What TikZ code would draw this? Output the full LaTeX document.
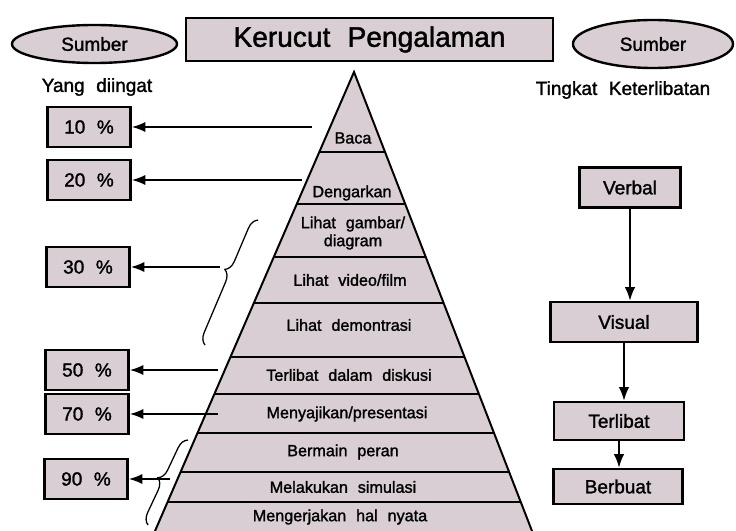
\documentclass[tikz,border=0pt]{standalone}
\usepackage{fontspec}
\setmainfont{Liberation Sans}[WordSpace=2.2, FakeBold=1.5]
\usetikzlibrary{calc,arrows.meta,shapes.geometric,decorations.pathreplacing}
\definecolor{boxfill}{RGB}{216,206,212}
\newcommand{\layer}[1]
{   \draw ($(apex)!#1!(bl)$) -- ($(apex)!#1!(br)$);
}
\newcommand{\bigfont}{\fontsize{13.5}{15}\selectfont}
\tikzset{
  box/.style={draw, line width=1.7pt, fill=boxfill, inner sep=0pt},
  pct/.style={box, minimum width=2.08cm, minimum height=1cm, font=\bigfont},
  lvl/.style={box, minimum height=1cm, font=\bigfont},
  src/.style={box, ellipse, font=\bigfont},
  lbl/.style={font=\fontsize{11.5}{12.8}\selectfont},
  arr/.style={line width=1.4pt, -{Latex[length=3.4mm,width=2.6mm]}},
  brc/.style={decorate, decoration={brace, amplitude=8pt, aspect=#1}, line width=0.9pt}
}

\begin{document}
\begin{tikzpicture}[x=0.025cm, y=-0.025cm]
 \useasboundingbox (0,0) rectangle (736,531);
 \clip (0,0) rectangle (736,531);

 \coordinate (apex) at (354,72);
 \coordinate (bl) at (155,531);
 \coordinate (br) at (532,531);
 \fill[boxfill] (apex) -- ($(apex)!1.05!(bl)$) -- ($(apex)!1.05!(br)$) -- cycle;
 \draw[line width=1.4pt] ($(apex)!1.05!(bl)$) -- (apex) -- ($(apex)!1.05!(br)$);
 \begin{scope}[line width=1.3pt]
   \layer{0.1743} \layer{0.2876} \layer{0.4031}
   \layer{0.5033} \layer{0.6209} \layer{0.7015}
   \layer{0.7865} \layer{0.8715} \layer{0.9368}
 \end{scope}

   \node[lbl] (baca) at (353,138) {Baca};
   \node[lbl] (dengar) at (352,193) {Dengarkan};
   \node[lbl, align=center] (gambar) at (353,233) {Lihat gambar/\\diagram};
   \node[lbl] (video) at (350,280) {Lihat video/film};
   \node[lbl] (demo) at (349,325) {Lihat demontrasi};
   \node[lbl] (diskusi) at (349,375) {Terlibat dalam diskusi};
   \node[lbl] (saji) at (347,414) {Menyajikan/presentasi};
   \node[lbl] (peran) at (343,452) {Bermain peran};
   \node[lbl] (simulasi) at (343,487) {Melakukan simulasi};
   \node[lbl] (nyata) at (340,517) {Mengerjakan hal nyata};

   \node[box, minimum width=9.175cm, minimum height=1.075cm, font=\fontsize{20}{22}\selectfont] (judul) at (369.5,39.5) {Kerucut Pengalaman};
   \node[src, minimum width=4.125cm, minimum height=0.95cm] (sumberL) at (94.5,44) {Sumber};
   \node[src, minimum width=4.0cm, minimum height=1.2cm] (sumberR) at (653,44) {Sumber};
   \node[font=\bigfont] (ingat) at (97,87) {Yang diingat};
   \node[font=\bigfont] (libat) at (623,90) {Tingkat Keterlibatan};

   \node[pct] (p10) at (89,127) {10 \%};
   \node[pct] (p20) at (89,180) {20 \%};
   \node[pct] (p30) at (88,267) {30 \%};
   \node[pct] (p50) at (87,370) {50 \%};
   \node[pct] (p70) at (87,414) {70 \%};
   \node[pct] (p90) at (86,479) {90 \%};

   \coordinate (a10) at (312,127);
   \coordinate (a20) at (302,180);
   \coordinate (a30) at (220,267);
   \coordinate (a50) at (218,370);
   \coordinate (a70) at (218,414);
   \coordinate (a90) at (170,479);
   \draw[arr] (a10) -- (p10);
   \draw[arr] (a20) -- (p20);
   \draw[arr] (a30) -- (p30);
   \draw[arr] (a50) -- (p50);
   \draw[arr] (a70) -- (p70);
   \draw[arr] (a90) -- (p90);
   \draw[brc=0.57] (205,345) -- (258,220);
   \draw[brc=0.5] (148,525) -- (188,440);

   \node[lvl, minimum width=2.525cm] (verbal) at (630,187.5) {Verbal};
   \node[lvl, minimum width=3.675cm] (visual) at (624,322) {Visual};
   \node[lvl, minimum width=3.25cm, minimum height=0.95cm] (terlibat) at (619,421) {Terlibat};
   \node[lvl, minimum width=3.225cm, minimum height=0.875cm] (berbuat) at (618,486.5) {Berbuat};
   \draw[arr] (verbal) -- (verbal.south |- visual.north);
   \draw[arr] (visual) -- (visual.south |- terlibat.north);
   \draw[arr] (terlibat) -- (terlibat.south |- berbuat.north);

\end{tikzpicture}
\end{document}
